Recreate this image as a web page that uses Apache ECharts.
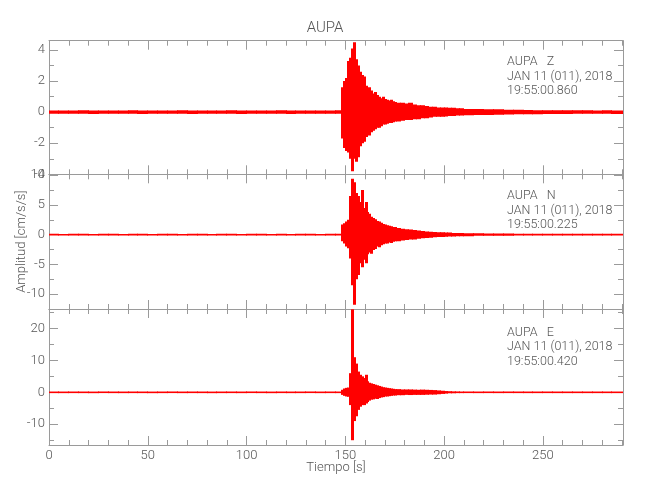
<!DOCTYPE html>
<html>
<head>
<meta charset="utf-8">
<script src="https://cdn.jsdelivr.net/npm/echarts@6/dist/echarts.min.js"></script>
<style>html,body{margin:0;padding:0;background:#fff}#c{width:650px;height:500px}</style>
</head>
<body>
<div id="c"></div>
<script>
// ---- data ----
const chartTitle = 'AUPA';
const station = 'AUPA';
const components = ['Z', 'N', 'E'];
const dateText = 'JAN 11 (011), 2018';
const startTimes = ['19:55:00.860', '19:55:00.225', '19:55:00.420'];
const xLabelText = 'Tiempo [s]';
const yLabelText = 'Amplitud [cm/s/s]';

const xMax = 290.6;
const xTicks = [0, 50, 100, 150, 200, 250];
const xMinor = [10,20,30,40,60,70,80,90,110,120,130,140,160,170,180,190,210,220,230,240,260,270,280,290];

const zRange = [-4, 4.6];
const zTicks = [-4, -2, 0, 2, 4];
const zMinor = [-3, -1, 1, 3];
const nRange = [-12.5, 10.15];
const nTicks = [-10, -5, 0, 5, 10];
const nMinor = [-12.5, -7.5, -2.5, 2.5, 7.5];
const eRange = [-16.5, 26.1];
const eTicks = [-10, 0, 10, 20];
const eMinor = [-15, -5, 5, 15, 25];

// start time (s) of each amplitude bin; a bin ends where the next one starts
const binStart = [0,5,10,15,20,25,30,35,40,45,50,55,60,65,70,75,80,85,90,95,100,105,110,115,120,125,130,135,140,145,
  148,149,150,151,152,153,154,155,156,157,158,159,160,161,162,163,164,165,166,167,168,169,170,171,172,173,174,175,
  176,178,180,182,184,186,188,190,192,194,196,198,200,202,204,206,208,
  210,215,220,225,230,235,240,245,250,255,260,265,270,275,280,285];

// per-bin maximum / minimum amplitude (cm/s/s)
const zHi = [0.10,0.11,0.10,0.12,0.10,0.10,0.11,0.10,0.12,0.10,0.11,0.10,0.10,0.12,0.11,0.10,0.10,0.11,0.12,0.10,0.10,0.11,0.10,0.12,0.10,0.11,0.10,0.10,0.11,0.12,
  1.6,2.0,2.2,3.3,3.5,4.1,4.5,3.4,3.0,2.6,2.4,2.3,1.7,1.5,1.6,1.4,1.2,1.3,1.1,1.0,0.9,1.0,0.85,0.8,0.75,0.8,0.7,0.65,
  0.6,0.6,0.55,0.6,0.5,0.45,0.45,0.4,0.35,0.35,0.3,0.3,0.3,0.28,0.28,0.25,0.25,
  0.2,0.2,0.18,0.18,0.15,0.15,0.14,0.13,0.13,0.12,0.12,0.12,0.12,0.11,0.12,0.11];
const zLo = [-0.10,-0.10,-0.11,-0.10,-0.12,-0.10,-0.10,-0.11,-0.10,-0.12,-0.10,-0.11,-0.10,-0.10,-0.12,-0.11,-0.10,-0.10,-0.11,-0.12,-0.10,-0.10,-0.11,-0.10,-0.12,-0.10,-0.11,-0.10,-0.10,-0.11,
  -1.7,-2.3,-2.5,-2.6,-3.0,-3.8,-3.0,-3.2,-2.9,-2.2,-2.0,-1.9,-1.6,-1.4,-1.5,-1.3,-1.2,-1.1,-1.0,-1.0,-0.9,-0.8,-0.8,-0.75,-0.7,-0.7,-0.65,-0.6,
  -0.6,-0.55,-0.5,-0.5,-0.45,-0.45,-0.4,-0.4,-0.35,-0.3,-0.3,-0.3,-0.28,-0.25,-0.25,-0.22,-0.22,
  -0.2,-0.18,-0.18,-0.16,-0.15,-0.14,-0.13,-0.13,-0.12,-0.12,-0.12,-0.11,-0.11,-0.11,-0.11,-0.12];

const nHi = [0.10,0.10,0.11,0.10,0.10,0.12,0.10,0.10,0.11,0.10,0.10,0.10,0.12,0.10,0.11,0.10,0.10,0.10,0.11,0.10,0.12,0.10,0.10,0.11,0.10,0.10,0.12,0.10,0.11,0.12,
  1.7,1.9,2.2,2.5,6.5,9.4,8.8,7.0,6.5,5.5,7.5,4.5,5.5,3.8,3.5,3.0,2.8,2.6,2.3,2.2,2.0,1.8,1.7,1.6,1.5,1.4,1.3,1.3,
  1.1,1.0,0.9,0.85,0.8,0.7,0.6,0.55,0.5,0.45,0.4,0.4,0.35,0.35,0.3,0.3,0.28,
  0.25,0.22,0.2,0.2,0.18,0.15,0.15,0.14,0.13,0.13,0.12,0.12,0.12,0.12,0.12,0.12];
const nLo = [-0.10,-0.11,-0.10,-0.10,-0.12,-0.10,-0.10,-0.11,-0.10,-0.10,-0.12,-0.10,-0.10,-0.11,-0.10,-0.10,-0.12,-0.10,-0.10,-0.11,-0.10,-0.10,-0.12,-0.10,-0.11,-0.10,-0.10,-0.11,-0.10,-0.12,
  -1.1,-1.5,-2.0,-2.3,-4.0,-8.5,-11.8,-7.5,-6.8,-4.8,-5.5,-4.2,-4.8,-3.3,-3.0,-3.2,-2.6,-2.4,-2.0,-2.1,-1.8,-1.6,-1.5,-1.5,-1.3,-1.4,-1.2,-1.1,
  -1.1,-1.0,-0.9,-0.8,-0.8,-0.7,-0.6,-0.55,-0.5,-0.45,-0.4,-0.38,-0.35,-0.3,-0.3,-0.28,-0.25,
  -0.25,-0.2,-0.2,-0.18,-0.18,-0.15,-0.15,-0.14,-0.13,-0.12,-0.12,-0.12,-0.12,-0.12,-0.12,-0.12];

const eHi = [0.15,0.15,0.16,0.15,0.15,0.18,0.15,0.15,0.16,0.15,0.15,0.15,0.18,0.15,0.16,0.15,0.15,0.15,0.16,0.15,0.18,0.15,0.15,0.16,0.15,0.15,0.18,0.15,0.16,0.2,
  0.8,1.2,1.4,1.5,6.0,26.0,11.0,9.0,6.5,5.5,5.0,4.5,5.5,3.5,3.0,2.8,2.6,2.4,2.2,2.0,1.8,1.6,1.5,1.4,1.3,1.2,1.1,1.0,
  1.0,0.9,0.9,0.9,0.85,0.8,0.85,0.8,0.75,0.7,0.6,0.5,0.4,0.35,0.3,0.28,0.25,
  0.22,0.2,0.2,0.18,0.18,0.16,0.15,0.15,0.15,0.14,0.14,0.14,0.14,0.14,0.14,0.14];
const eLo = [-0.15,-0.16,-0.15,-0.15,-0.18,-0.15,-0.15,-0.16,-0.15,-0.15,-0.18,-0.15,-0.15,-0.16,-0.15,-0.15,-0.18,-0.15,-0.15,-0.16,-0.15,-0.15,-0.18,-0.15,-0.16,-0.15,-0.15,-0.16,-0.15,-0.2,
  -0.8,-1.1,-1.3,-1.4,-4.0,-15.0,-9.0,-7.5,-5.5,-4.5,-4.0,-4.0,-3.5,-3.0,-2.6,-2.3,-2.2,-2.0,-2.1,-1.8,-1.6,-1.5,-1.3,-1.3,-1.2,-1.1,-1.0,-1.0,
  -0.9,-0.9,-0.8,-0.85,-0.8,-0.8,-0.8,-0.75,-0.7,-0.7,-0.6,-0.5,-0.4,-0.3,-0.3,-0.25,-0.25,
  -0.2,-0.2,-0.18,-0.18,-0.16,-0.15,-0.15,-0.15,-0.14,-0.14,-0.14,-0.14,-0.14,-0.14,-0.14,-0.14];

// ---- styling / layout ----
const FONT = "Roboto, 'DejaVu Sans Condensed', sans-serif";
const FW = 300;
const AX = '#9a9a9a';
const TXT = '#555555';
const TRACE = '#ff0000';

const panels = [
  {top: 40.7, height: 133.6, range: zRange, ticks: zTicks, minor: zMinor, hi: zHi, lo: zLo, textY: 55},
  {top: 174.3, height: 134.7, range: nRange, ticks: nTicks, minor: nMinor, hi: nHi, lo: nLo, textY: 189},
  {top: 309, height: 136, range: eRange, ticks: eTicks, minor: eMinor, hi: eHi, lo: eLo, textY: 325.5}
];

// one [start, end, min, max] record per amplitude bin
function binsFor(hi, lo) {
  return binStart.map((t, i) => [t, i + 1 < binStart.length ? binStart[i + 1] : xMax, lo[i], hi[i]]);
}
function renderEnvelope(params, api) {
  const a = api.coord([api.value(0), api.value(3)]);
  const b = api.coord([api.value(1), api.value(2)]);
  const x0 = Math.floor(a[0]);
  const x1 = Math.ceil(b[0]);
  let y0 = a[1], h = b[1] - a[1];
  if (h < 1.6) { y0 -= (1.6 - h) / 2; h = 1.6; }
  return {type: 'rect', shape: {x: x0, y: y0, width: x1 - x0, height: h},
    style: {fill: TRACE}};
}

const textStyleBase = {color: TXT, fontFamily: FONT, fontWeight: FW, fontSize: 13};
function xAxisDef(g, pos, vals, len, withLabel, withLine) {
  return {
    type: 'value', gridIndex: g, position: pos, min: 0, max: xMax,
    axisLine: {show: withLine, onZero: false, lineStyle: {color: AX, width: 1}},
    axisTick: {show: true, inside: true, length: len, customValues: vals, lineStyle: {color: AX, width: 1}},
    axisLabel: withLabel ? Object.assign({show: true, customValues: vals, margin: 4}, textStyleBase) : {show: false},
    splitLine: {show: false},
    name: withLabel ? xLabelText : '',
    nameLocation: 'middle', nameGap: 16, nameMoveOverlap: false,
    nameTextStyle: textStyleBase
  };
}
function yAxisDef(g, pos, p, vals, len, withLabel, withLine, nameText) {
  return {
    type: 'value', gridIndex: g, position: pos, min: p.range[0], max: p.range[1],
    axisLine: {show: withLine, onZero: false, lineStyle: {color: AX, width: 1}},
    axisTick: {show: true, inside: true, length: len, customValues: vals, lineStyle: {color: AX, width: 1}},
    axisLabel: withLabel ? Object.assign({show: true, customValues: vals, margin: 4}, textStyleBase) : {show: false},
    splitLine: {show: false},
    name: nameText || '',
    nameLocation: 'middle', nameGap: 21, nameMoveOverlap: false,
    nameTextStyle: textStyleBase
  };
}

const grid = [], xAxis = [], yAxis = [], series = [], graphic = [];
panels.forEach((p, g) => {
  grid.push({left: 49, right: 27, top: p.top, height: p.height});
  const base = xAxis.length;
  xAxis.push(xAxisDef(g, 'bottom', xTicks, 9, g === 2, true));
  xAxis.push(xAxisDef(g, 'bottom', xMinor, 5, false, false));
  xAxis.push(xAxisDef(g, 'top', xTicks, 9, false, true));
  xAxis.push(xAxisDef(g, 'top', xMinor, 5, false, false));
  yAxis.push(yAxisDef(g, 'left', p, p.ticks, 9, true, true, g === 1 ? yLabelText : ''));
  yAxis.push(yAxisDef(g, 'left', p, p.minor, 5, false, false));
  yAxis.push(yAxisDef(g, 'right', p, p.ticks, 9, false, true));
  yAxis.push(yAxisDef(g, 'right', p, p.minor, 5, false, false));
  series.push({
    type: 'custom', xAxisIndex: base, yAxisIndex: base, clip: true, silent: true,
    encode: {x: [0, 1], y: [2, 3]},
    data: binsFor(p.hi, p.lo),
    renderItem: renderEnvelope
  });
  graphic.push({
    type: 'text', left: 507, top: p.textY, silent: true,
    style: {
      text: station + '   ' + components[g] + '\n' + dateText + '\n' + startTimes[g],
      fill: TXT, fontFamily: FONT, fontWeight: FW, fontSize: 12.5, lineHeight: 14.5
    }
  });
});

const chart = echarts.init(document.getElementById('c'), null, {renderer: 'canvas'});
chart.setOption({
  animation: false,
  backgroundColor: '#ffffff',
  title: {text: chartTitle, left: 'center', top: 16,
    textStyle: {color: TXT, fontFamily: FONT, fontWeight: FW, fontSize: 15}},
  grid, xAxis, yAxis, series, graphic
});
</script>
</body>
</html>
